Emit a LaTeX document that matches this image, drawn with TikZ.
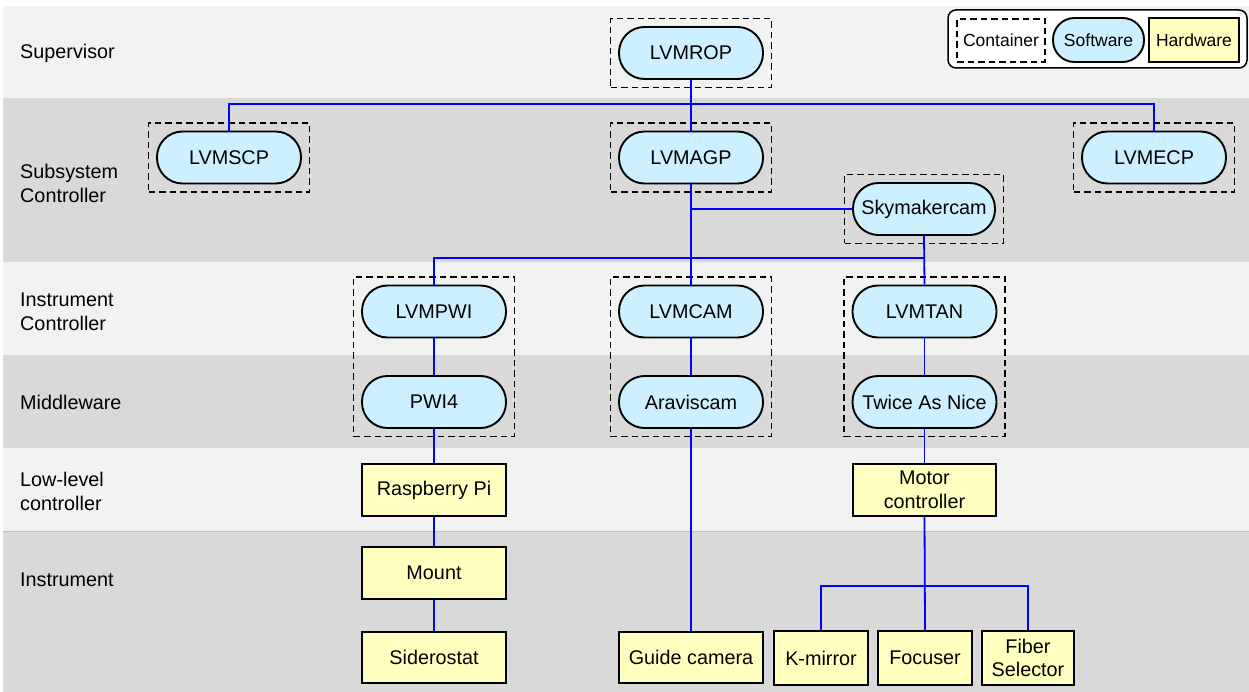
\documentclass[tikz,border=0pt]{standalone}
\usepackage{fontspec}
\setmainfont{Liberation Sans}
\usetikzlibrary{fit}
\definecolor{bandlight}{HTML}{F2F2F2}
\definecolor{banddark}{HTML}{D9D9D9}
\definecolor{swfill}{HTML}{CCF0FF}
\definecolor{hwfill}{HTML}{FFFFC0}
\definecolor{linkblue}{HTML}{0000FF}
\begin{document}
\begin{tikzpicture}[x=1pt,y=-1pt,
  txt/.style={font=\fontsize{19.8}{23.5}\selectfont, align=center},
  sw/.style={txt, draw=black, line width=1.9pt, fill=swfill, rounded corners=25.5pt,
    minimum width=144pt, minimum height=52pt, inner sep=0pt},
  hw/.style={txt, draw=black, line width=2.3pt, fill=hwfill,
    minimum width=144pt, minimum height=52pt, inner sep=0pt},
  box/.style={draw=black, line width=1.5pt, dash pattern=on 6.5pt off 4pt, inner sep=7.5pt},
  link/.style={draw=linkblue, line width=1.8pt},
  band/.style={font=\fontsize{19.8}{24}\selectfont, align=left, anchor=west, inner sep=0pt},
  legendtxt/.style={font=\fontsize{17.5}{20}\selectfont}
]
\useasboundingbox (0,0) rectangle (1249,692);
\fill[white] (0,0) rectangle (1249,692);

% layer bands
\fill[bandlight] (3,6) rectangle (1249,98);
\fill[banddark]  (3,98) rectangle (1249,262);
\fill[bandlight] (3,262) rectangle (1249,355);
\fill[banddark]  (3,355) rectangle (1249,448);
\fill[bandlight] (3,448) rectangle (1249,531);
\fill[banddark]  (3,531) rectangle (1249,692);
\draw[black!25, line width=1pt] (3,531) -- (1249,531);

\node[band] (lSup) at (20,53) {Supervisor};
\node[band] (lSub) at (20,183.5) {Subsystem\\Controller};
\node[band] (lIC)  at (20,312) {Instrument\\Controller};
\node[band] (lMW)  at (20,402) {Middleware};
\node[band] (lLL)  at (20,491) {Low-level\\controller};
\node[band] (lIn)  at (20,580) {Instrument};

% legend
\node[draw=black, line width=1.5pt, rounded corners=8pt, fill=white,
  minimum width=299pt, minimum height=58pt, inner sep=0pt] (legend) at (1097.5,39) {};
\node[box, legendtxt, minimum width=88pt, minimum height=43pt, inner sep=0pt] (legC) at (1001,40.5) {Container};
\node[sw, legendtxt, minimum width=91pt, minimum height=44pt, rounded corners=21.5pt] (legS) at (1098.5,40) {Software};
\node[hw, legendtxt, minimum width=90pt, minimum height=44pt] (legH) at (1194,40) {Hardware};

% software
\node[sw] (ROP) at (691,53) {LVMROP};
\node[sw] (SCP) at (229,157.5) {LVMSCP};
\node[sw] (AGP) at (691,157.5) {LVMAGP};
\node[sw] (ECP) at (1154,157.5) {LVMECP};
\node[sw, minimum width=142pt] (SKY) at (924,209) {Skymakercam};
\node[sw] (PWI) at (434,311.5) {LVMPWI};
\node[sw] (CAM) at (691,311.5) {LVMCAM};
\node[sw] (TAN) at (924.5,311.5) {LVMTAN};
\node[sw] (PWI4) at (434,402) {PWI4};
\node[sw] (ARA) at (691,402) {Araviscam};
\node[sw] (TAS) at (924.5,402) {Twice As Nice};

% hardware
\node[hw] (RPI) at (434,490) {Raspberry Pi};
\node[hw, minimum width=143pt] (MOT) at (924.5,490) {Motor\\controller};
\node[hw] (MNT) at (434,573) {Mount};
\node[hw, minimum height=51pt] (SID) at (434,657.5) {Siderostat};
\node[hw, minimum height=51pt] (GUI) at (691,657.5) {Guide camera};
\node[hw, minimum width=94pt, minimum height=54pt] (KMI) at (821,658) {K-mirror};
\node[hw, minimum width=94pt, minimum height=54pt] (FOC) at (925,658) {Focuser};
\node[hw, minimum width=92pt, minimum height=54pt] (FIB) at (1028,658) {Fiber\\Selector};

% containers
\node[box, fit=(ROP)] (cROP) {};
\node[box, fit=(SCP)] (cSCP) {};
\node[box, fit=(AGP)] (cAGP) {};
\node[box, fit=(ECP)] (cECP) {};
\node[box, fit=(SKY)] (cSKY) {};
\node[box, fit=(PWI)(PWI4)] (cPWI) {};
\node[box, fit=(CAM)(ARA)] (cCAM) {};
\node[box, fit=(TAN)(TAS)] (cTAN) {};

% connections
\coordinate (bus) at (691,104);
\coordinate (skyjoin) at (924,258);
\coordinate (motjoin) at (924.5,586);
\draw[link] (ROP.south) -- (AGP.north);
\draw[link] (SCP.north) |- (bus) -| (ECP.north);
\draw[link] (AGP.south) -- (CAM.north);
\draw[link] (SKY.west) -- (SKY.west -| AGP.south);
\draw[link] (SKY.south) -- (TAN.north);
\draw[link] (PWI.north) |- (skyjoin);
\draw[link] (PWI.south) -- (PWI4.north);
\draw[link] (CAM.south) -- (ARA.north);
\draw[link] (TAN.south) -- (TAS.north);
\draw[link] (PWI4.south) -- (RPI.north);
\draw[link] (RPI.south) -- (MNT.north);
\draw[link] (MNT.south) -- (SID.north);
\draw[link] (ARA.south) -- (GUI.north);
\draw[link] (TAS.south) -- (MOT.north);
\draw[link] (MOT.south) -- (FOC.north);
\draw[link] (KMI.north) |- (motjoin) -| (FIB.north);
\end{tikzpicture}
\end{document}
